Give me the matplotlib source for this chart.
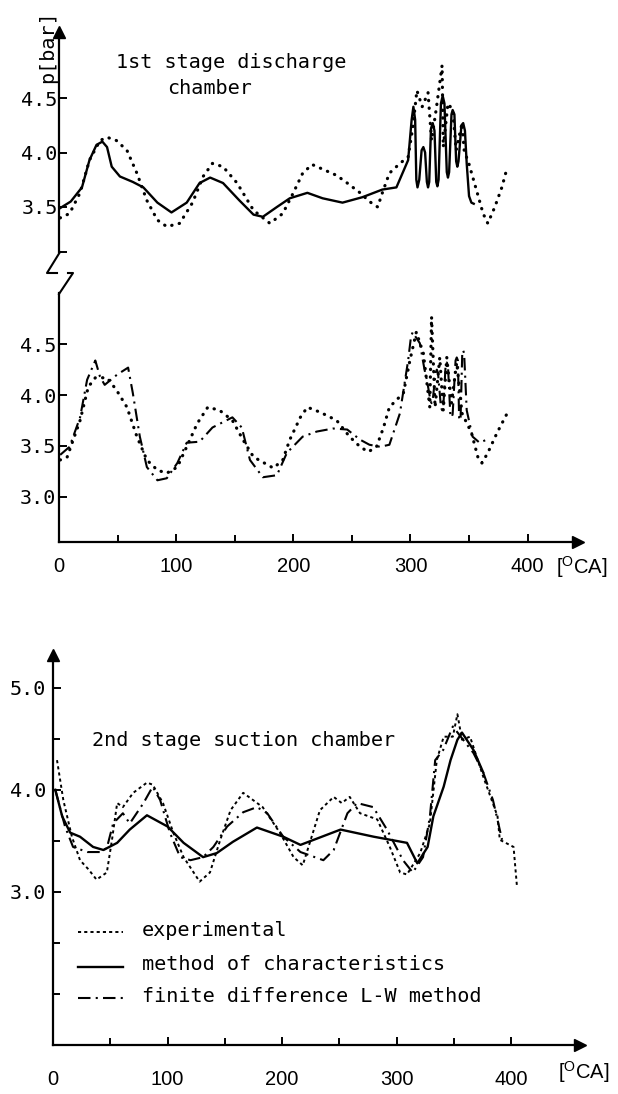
import numpy as np
from matplotlib import pyplot as plt

W, H = 618, 1094

plt.rcParams['mathtext.fontset'] = 'custom'
plt.rcParams['mathtext.rm'] = 'Liberation Sans'

MONO = 'DejaVu Sans Mono'
SANS = 'Liberation Sans'

# 1st stage discharge chamber: experiment vs method of characteristics
top_exp_x = [1, 9, 18, 26, 35, 41, 49, 58, 66.5, 75, 84, 92, 103, 114, 123, 131, 140, 152, 166, 180,
             191, 200, 208, 216, 237, 246, 257, 265, 272, 276, 282, 291, 298, 302, 305.5, 310, 315, 318,
             322, 327, 328, 332, 336, 339, 344, 346, 349, 357, 362, 366, 372, 378, 382]
top_exp_y = [3.40, 3.44, 3.63, 3.93, 4.11, 4.14, 4.11, 4.02, 3.81, 3.56, 3.38, 3.32, 3.35, 3.54, 3.78, 3.90,
             3.87, 3.72, 3.47, 3.35, 3.44, 3.63, 3.81, 3.89, 3.79, 3.72, 3.63, 3.55, 3.50, 3.63, 3.81, 3.90,
             3.96, 4.23, 4.57, 4.42, 4.55, 4.11, 4.40, 4.80, 4.05, 4.45, 4.39, 4.02, 4.27, 4.00, 3.93, 3.63,
             3.44, 3.35, 3.50, 3.68, 3.84]
top_moc_x = [1, 10, 19.6, 26, 32, 37, 41, 45, 52, 63, 72, 84, 96, 109, 120, 129, 140, 154, 166, 174,
             186, 197, 212, 225, 242, 259, 276, 288, 298, 301, 302.5, 304, 305, 306, 307.5, 309.5, 311,
             312.5, 314, 315, 316, 317.5, 319, 320.5, 322, 323, 324, 326, 327.5, 329, 331, 332, 333, 335,
             336, 337.5, 339, 340, 341, 343.5, 345, 346.5, 348, 350, 352, 354]
top_moc_y = [3.49, 3.55, 3.68, 3.93, 4.07, 4.10, 4.05, 3.87, 3.78, 3.73, 3.68, 3.54, 3.45, 3.54, 3.72, 3.77,
             3.72, 3.56, 3.43, 3.41, 3.50, 3.58, 3.63, 3.58, 3.54, 3.59, 3.66, 3.68, 3.93, 4.30, 4.42, 4.30,
             3.75, 3.68, 3.75, 4.02, 4.05, 4.00, 3.73, 3.68, 3.73, 4.22, 4.27, 4.20, 3.73, 3.69, 3.75, 4.45,
             4.52, 4.45, 3.82, 3.77, 3.82, 4.35, 4.39, 4.35, 3.92, 3.87, 3.92, 4.25, 4.27, 4.20, 3.90, 3.60,
             3.54, 3.53]

# 1st stage discharge chamber: experiment vs finite difference L-W
mid_exp_x = [1, 7, 18, 25, 31, 41, 49, 58, 66.5, 75, 84, 92, 101, 109, 118, 127, 137, 148, 157, 166,
             183, 191, 197, 206, 212, 223, 237, 248, 257, 264, 271, 277, 282, 294, 299.5, 305, 311, 316.5,
             318, 321, 325, 328, 331, 335, 339.5, 344, 352, 357.5, 361, 366, 374, 383]
mid_exp_y = [3.36, 3.39, 3.75, 4.08, 4.17, 4.17, 4.05, 3.88, 3.59, 3.36, 3.26, 3.23, 3.29, 3.49, 3.72, 3.88,
             3.85, 3.75, 3.56, 3.39, 3.28, 3.36, 3.56, 3.78, 3.88, 3.83, 3.75, 3.59, 3.49, 3.44, 3.49, 3.68,
             3.88, 4.02, 4.34, 4.62, 4.41, 3.88, 4.77, 3.88, 4.37, 3.85, 4.37, 3.92, 4.32, 3.82, 3.63, 3.39,
             3.33, 3.43, 3.63, 3.83]
mid_lw_x = [1, 9, 18, 24, 31, 35, 39, 49.5, 59, 63, 69, 75, 84, 92, 101, 109, 120, 131, 148, 156, 163,
            174, 186, 194.5, 208, 220, 234, 246, 257, 265, 274, 282, 291, 298, 300.5, 302, 304, 308, 312,
            314, 317, 318, 319, 321.5, 322.5, 323.5, 326, 327, 328, 330, 331, 332, 334, 335, 336, 338.5,
            339.5, 340.5, 341.5, 342, 342.8, 344.2, 345, 345.8, 348, 353, 359, 365]
mid_lw_y = [3.41, 3.49, 3.78, 4.15, 4.34, 4.18, 4.10, 4.20, 4.27, 4.02, 3.59, 3.29, 3.16, 3.18, 3.33, 3.53,
            3.54, 3.68, 3.78, 3.68, 3.36, 3.19, 3.21, 3.43, 3.59, 3.64, 3.67, 3.66, 3.56, 3.51, 3.49, 3.51,
            3.82, 4.34, 4.58, 4.62, 4.58, 4.51, 4.25, 4.15, 3.95, 3.92, 3.95, 4.22, 4.25, 4.22, 3.88, 3.85,
            3.88, 4.29, 4.32, 4.29, 3.81, 3.78, 3.81, 4.34, 4.37, 4.34, 3.78, 3.75, 3.78, 4.41, 4.44, 4.41,
            3.85, 3.59, 3.53, 3.56]

# 2nd stage suction chamber
bot_exp_x = [3.5, 9, 16.5, 23.6, 31, 38, 47, 51.5, 56, 61, 70, 82, 87, 96, 105, 114, 128, 137, 146, 155,
             166, 183, 198, 210, 218, 233, 245, 252, 259, 268, 283, 294, 303, 309, 320.5, 329, 335, 341,
             349, 353, 357, 364, 375.5, 388, 390, 402, 405]
bot_exp_y = [4.29, 3.90, 3.54, 3.31, 3.22, 3.12, 3.19, 3.51, 3.87, 3.83, 3.97, 4.07, 4.05, 3.87, 3.58, 3.34,
             3.10, 3.19, 3.51, 3.80, 3.97, 3.83, 3.58, 3.34, 3.26, 3.80, 3.93, 3.87, 3.93, 3.77, 3.71, 3.44,
             3.19, 3.17, 3.38, 3.67, 4.29, 4.52, 4.52, 4.74, 4.49, 4.52, 4.13, 3.74, 3.51, 3.44, 3.05]
bot_moc_x = [2, 8, 15, 23.6, 35, 44, 56, 67, 82, 100, 114, 131, 143, 157, 178, 201, 216, 251, 280, 309,
             318, 327, 332, 341, 347, 353, 357, 367, 375.5]
bot_moc_y = [4.00, 3.74, 3.58, 3.54, 3.44, 3.41, 3.48, 3.61, 3.75, 3.64, 3.48, 3.34, 3.38, 3.49, 3.63, 3.54,
             3.46, 3.61, 3.54, 3.48, 3.28, 3.44, 3.74, 4.03, 4.29, 4.49, 4.56, 4.39, 4.17]
bot_lw_x = [2, 10.5, 17.5, 30, 41, 47, 52.5, 61, 67, 79, 87, 93.5, 102, 111, 120, 131, 140, 152, 166, 178,
            187, 201, 216, 236, 245, 257, 265.5, 279.5, 291.5, 305.5, 314, 323, 329, 333.6, 340.6, 349,
            358, 367, 375.5, 384, 392]
bot_lw_y = [4.00, 3.64, 3.44, 3.39, 3.39, 3.43, 3.67, 3.77, 3.67, 3.87, 4.03, 3.90, 3.58, 3.34, 3.31, 3.34,
            3.44, 3.64, 3.78, 3.83, 3.77, 3.54, 3.39, 3.31, 3.41, 3.77, 3.87, 3.83, 3.61, 3.31, 3.19, 3.34,
            3.74, 4.29, 4.39, 4.62, 4.49, 4.36, 4.17, 3.90, 3.51]

legend_labels = ['experimental', 'method of characteristics', 'finite difference L-W method']
x_major = [0, 100, 200, 300, 400]
x_minor = [50, 150, 250, 350]

EXP = dict(color='black', lw=2.3, linestyle=(0, (0.1, 2.3)), dash_capstyle='round')
EXP2 = dict(color='black', lw=1.4, linestyle=(0, (1.6, 1.6)))
MOC = dict(color='black', lw=1.7, solid_joinstyle='round')
LW = dict(color='black', lw=1.5, linestyle=(0, (6, 2.5, 1, 2.5)))


def rect(left, top, right, bottom):
    # pixel box -> figure fraction
    return [left / W, 1 - bottom / H, (right - left) / W, (bottom - top) / H]


def base_axes(ax, xlim, ylim):
    ax.set_xlim(*xlim)
    ax.set_ylim(*ylim)
    ax.patch.set_alpha(0)
    for s in ['top', 'right']:
        ax.spines[s].set_visible(False)
    for s in ['left', 'bottom']:
        ax.spines[s].set_linewidth(1.6)
    ax.tick_params(which='both', direction='in', width=1.4)
    ax.tick_params(which='major', length=6)
    ax.tick_params(which='minor', length=5)


def y_labels(ax, ticks, labels, pad):
    ax.set_yticks(ticks)
    ax.set_yticklabels(labels, fontfamily=MONO, fontsize=14.5)
    ax.tick_params(axis='y', pad=pad)


def x_labels(ax, pad):
    ax.set_xticks(x_major)
    ax.set_xticks(x_minor, minor=True)
    ax.set_xticklabels([str(v) for v in x_major], fontfamily=SANS, fontsize=14.5)
    ax.tick_params(axis='x', pad=pad)
    ax.plot(1, 0, '>', color='black', ms=8, transform=ax.transAxes, clip_on=False)


fig = plt.figure(figsize=(W / 100, H / 100), dpi=100)

# top panel - no x axis of its own
ax1 = fig.add_axes(rect(59, 32, 578, 252))
base_axes(ax1, (0, 443), (3.087, 5.106))
ax1.spines['bottom'].set_visible(False)
ax1.set_xticks([])
y_labels(ax1, [3.087, 3.5, 4.0, 4.5], ['', '3.5', '4.0', '4.5'], 1)
ax1.plot(0, 1, '^', color='black', ms=8, transform=ax1.transAxes, clip_on=False)
ax1.plot(top_exp_x, top_exp_y, **EXP)
ax1.plot(top_moc_x, top_moc_y, **MOC)

# middle panel
ax2 = fig.add_axes(rect(59, 293, 578, 542))
base_axes(ax2, (0, 443), (2.552, 5.005))
y_labels(ax2, [3.0, 3.5, 4.0, 4.5], ['3.0', '3.5', '4.0', '4.5'], 2)
x_labels(ax2, 11)
ax2.plot(mid_exp_x, mid_exp_y, **EXP)
ax2.plot(mid_lw_x, mid_lw_y, **LW)

# bottom panel
ax3 = fig.add_axes(rect(53, 655, 580, 1045))
base_axes(ax3, (0, 460), (1.5, 5.32))
y_labels(ax3, [3.0, 4.0, 5.0], ['3.0', '4.0', '5.0'], 5)
ax3.set_yticks([2.0, 2.5, 3.5, 4.5], minor=True)
x_labels(ax3, 18)
ax3.plot(0, 1, '^', color='black', ms=8, transform=ax3.transAxes, clip_on=False)
ax3.plot(bot_exp_x, bot_exp_y, **EXP2)
ax3.plot(bot_moc_x, bot_moc_y, **MOC)
ax3.plot(bot_lw_x, bot_lw_y, **LW)

# overlay in pixel coordinates for the decorations
deco = fig.add_axes([0, 0, 1, 1])
deco.set_xlim(0, W)
deco.set_ylim(H, 0)
deco.axis('off')

# axis break between top and middle panel
deco.plot([60, 47, 57], [252, 273, 273], color='black', lw=1.5)
deco.plot([68, 73, 59], [273, 273, 294], color='black', lw=1.5)

deco.text(48, 47, 'p[bar]', rotation=90, ha='center', va='center', fontfamily=MONO, fontsize=14.5)
deco.text(116, 63, '1st stage discharge', ha='left', va='center', fontfamily=MONO, fontsize=14.5)
deco.text(167, 89, 'chamber', ha='left', va='center', fontfamily=MONO, fontsize=14.5)
deco.text(92, 740, '2nd stage suction chamber', ha='left', va='center', fontfamily=MONO, fontsize=14.5)

deco.text(556, 567, r'[$^{\rm O}$CA]', ha='left', va='center', fontfamily=SANS, fontsize=14.5)
deco.text(558, 1072, r'[$^{\rm O}$CA]', ha='left', va='center', fontfamily=SANS, fontsize=14.5)

# legend drawn by hand
leg_styles = [EXP2, MOC, LW]
leg_y = [932, 967, 998]
for lab, st, yy in zip(legend_labels, leg_styles, leg_y):
    deco.plot([78, 123], [yy, yy], **st)
    deco.text(142, yy - 2, lab, ha='left', va='center', fontfamily=MONO, fontsize=14.5)

plt.savefig('out.png', dpi=100)
